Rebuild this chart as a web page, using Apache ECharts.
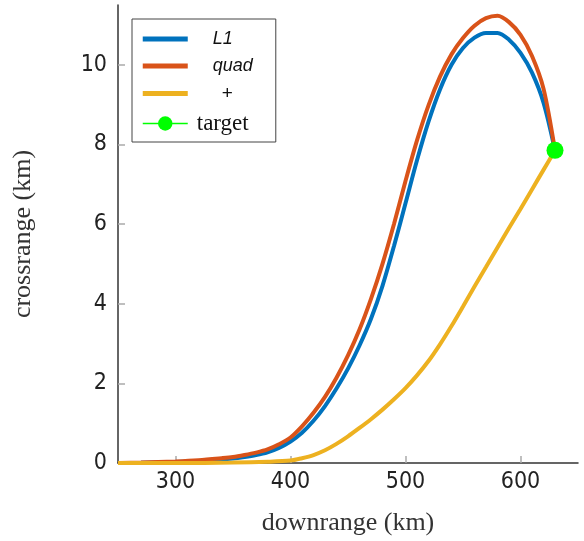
<!DOCTYPE html>
<html>
<head>
<meta charset="utf-8">
<script src="https://cdn.jsdelivr.net/npm/echarts@6/dist/echarts.min.js"></script>
<style>html,body{margin:0;padding:0;background:#fff}#c{width:584px;height:541px}</style>
</head>
<body>
<div id="c"></div>
<script>
const xL1   = [250,270,300,320,340,350,360,370,380,390,400,410,420,430,440,450,460,470,480,490,500,510,520,530,540,550,560,570,580,590,600,610,620,630];
const yL1   = [0,0.005,0.025,0.05,0.09,0.11,0.15,0.2,0.27,0.38,0.54,0.76,1.06,1.43,1.87,2.37,2.95,3.62,4.45,5.45,6.52,7.6,8.57,9.38,10.0,10.42,10.68,10.8,10.8,10.63,10.3,9.8,9.05,7.85];
const xQuad = [250,270,300,320,340,350,360,370,380,390,400,410,420,430,440,450,460,470,480,490,500,510,520,530,540,550,560,570,580,590,600,610,620,630];
const yQuad = [0,0.01,0.04,0.07,0.12,0.15,0.2,0.26,0.34,0.47,0.64,0.92,1.26,1.66,2.14,2.7,3.35,4.12,5.0,6.0,7.08,8.1,8.98,9.7,10.26,10.67,10.98,11.17,11.23,11.07,10.75,10.22,9.4,7.85];
const xPlus = [250,300,350,380,400,410,420,430,440,450,460,470,480,490,500,510,520,530,540,550,560,570,580,590,600,610,620,630];
const yPlus = [0,0,0.01,0.03,0.06,0.12,0.2,0.32,0.48,0.67,0.88,1.1,1.34,1.6,1.88,2.2,2.56,2.98,3.44,3.93,4.43,4.92,5.41,5.9,6.38,6.87,7.36,7.85];
const target = [630, 7.85];
const xTicks = [300,400,500,600];
const yTicks = [0,2,4,6,8,10];
const names = ['L1','quad','+','target'];

const pair = (xs, ys) => xs.map((x, i) => [x, ys[i]]);
const chart = echarts.init(document.getElementById('c'));
const tickFont = "'Liberation Sans Narrow', 'DejaVu Sans Condensed', Roboto, sans-serif";
const barIcon = 'path://M0,0L0.01,0L0,0.01Z M45,14L44.99,14L45,13.99Z M0,4.6L45,4.6L45,9.4L0,9.4Z';
const lineSeries = (name, xs, ys, color, z) => ({
  name, type: 'line', data: pair(xs, ys), smooth: 0.3,
  showSymbol: false, symbol: 'none',
  lineStyle: {color, width: 4}, itemStyle: {color}, z
});
chart.setOption({
  animation: false,
  grid: {left: 118, right: 6, top: 5, bottom: 76, containLabel: false},
  xAxis: {
    type: 'value', min: 250, max: 650,
    name: 'downrange (km)', nameLocation: 'middle', nameGap: 47,
    nameTextStyle: {fontFamily: 'Liberation Serif', fontSize: 26, color: '#333'},
    axisLine: {show: true, onZero: false, lineStyle: {color: '#333', width: 1.5}},
    axisTick: {show: true, inside: true, length: 7, customValues: xTicks, lineStyle: {color: '#aaa', width: 1.5}},
    axisLabel: {customValues: xTicks, margin: 8, fontFamily: tickFont, fontSize: 23, color: '#222'},
    splitLine: {show: false}
  },
  yAxis: {
    type: 'value', min: 0, max: 11.5,
    name: 'crossrange (km)', nameLocation: 'middle', nameGap: 82, nameRotate: 90,
    nameTextStyle: {fontFamily: 'Liberation Serif', fontSize: 26, color: '#333'},
    axisLine: {show: true, onZero: false, lineStyle: {color: '#333', width: 1.5}},
    axisTick: {show: true, inside: true, length: 7, customValues: yTicks, lineStyle: {color: '#aaa', width: 1.5}},
    axisLabel: {customValues: yTicks, margin: 11, fontFamily: tickFont, fontSize: 23, color: '#222', padding: [7, 0, 0, 0]},
    splitLine: {show: false}
  },
  legend: {
    orient: 'vertical', left: 132, top: 19,
    data: [
      {name: 'L1', icon: barIcon},
      {name: 'quad', icon: barIcon},
      {name: '+', icon: barIcon},
      {name: 'target', lineStyle: {width: 1.5}}
    ],
    itemWidth: 45, itemHeight: 18, itemGap: 9,
    backgroundColor: '#fff', borderColor: '#444', borderWidth: 1,
    padding: [11, 23, 7, 10],
    formatter: n => n === 'L1' ? '{it|L1}' : n === 'quad' ? '{it|quad}' : n === '+' ? '{pl|+}' : '{tg|target}',
    textStyle: {
      color: '#111',
      rich: {
        it: {fontFamily: 'Liberation Sans', fontStyle: 'italic', fontSize: 18, padding: [0, 0, 0, 20], width: 60},
        pl: {fontFamily: 'Liberation Sans', fontSize: 19, padding: [0, 0, 0, 29], width: 60},
        tg: {fontFamily: 'Liberation Serif', fontSize: 23, padding: [0, 0, 0, 4], width: 60}
      }
    }
  },
  series: [
    lineSeries('L1', xL1, yL1, '#0072BD', 2),
    lineSeries('quad', xQuad, yQuad, '#D95319', 3),
    lineSeries('+', xPlus, yPlus, '#EDB120', 4),
    {name: 'target', type: 'line', data: [target], symbol: 'circle', symbolSize: 17, showSymbol: true,
     lineStyle: {color: '#00ff00', width: 1.5}, itemStyle: {color: '#00ff00'}, z: 5}
  ]
});
</script>
</body>
</html>
